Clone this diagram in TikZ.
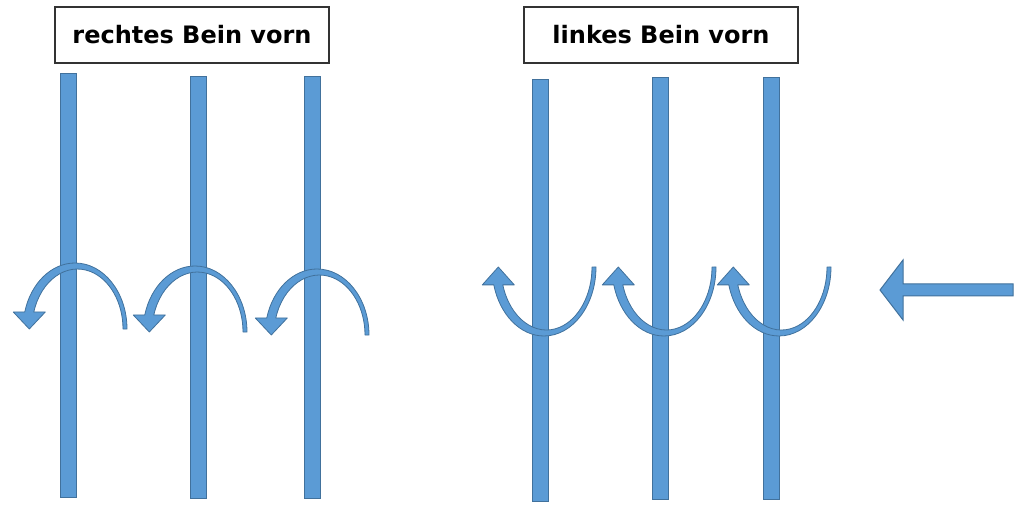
\documentclass[tikz,border=0pt]{standalone}
\usepackage{fontspec}
\setmainfont{DejaVu Sans}
\usepackage{xcolor}
\usepackage{tikz}
\definecolor{poleblue}{HTML}{5B9BD5}
\definecolor{poleedge}{HTML}{41719C}

\begin{document}
\begin{tikzpicture}[x=1pt,y=1pt,
    pole/.style={fill=poleblue, draw=poleedge, line width=1pt},
    turn/.style={fill=poleblue, draw=poleedge, line width=0.8pt, line join=round},
    legbox/.style={draw=black!80, line width=1.5pt, minimum width=274pt, minimum height=56pt,
        font=\fontsize{24}{28}\selectfont\bfseries}]
    \useasboundingbox (0,0) rectangle (1017,519);

    % Labels
    \node[legbox] (rightleg) at (192,484) {rechtes Bein vorn};
    \node[legbox] (leftleg) at (661,484) {linkes Bein vorn};

    % Poles
    \foreach \px/\yt/\yb in {68/445/21, 198/442/20, 312/442/20, 540/439/17, 660/441/19, 771/441/19} {
        \draw[pole] (\px-8,\yb) rectangle (\px+8,\yt);
    }

    % Turns over the pole (rechtes Bein vorn)
    \foreach \cx/\cy in {75/190, 195/187, 317/184} {
        \draw[turn] (\cx+52,\cy) arc[start angle=0, end angle=165, x radius=52pt, y radius=66pt]
            -- (\cx-61.7,\cy+17) -- (\cx-45.7,\cy) -- (\cx-29.7,\cy+17) -- (\cx-41.2,\cy+17)
            arc[start angle=163.5, end angle=0, x radius=45.54pt, y radius=60pt] -- cycle;
    }

    % Turns under the pole (linkes Bein vorn)
    \foreach \cx in {544, 664, 779} {
        \draw[turn] (\cx+52,252) arc[start angle=0, end angle=-165, x radius=52pt, y radius=69pt]
            -- (\cx-61.7,234.1) -- (\cx-45.7,252) -- (\cx-29.7,234.1) -- (\cx-41.2,234.1)
            arc[start angle=-163.5, end angle=0, x radius=45.54pt, y radius=63pt] -- cycle;
    }

    % Direction
    \draw[pole] (880,229) -- (903,259) -- (903,235) -- (1013,235) -- (1013,223) -- (903,223) -- (903,199) -- cycle;
\end{tikzpicture}
\end{document}
